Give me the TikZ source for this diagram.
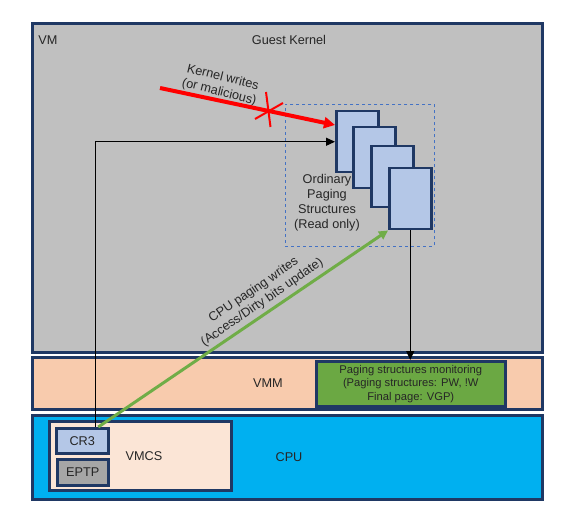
\documentclass[tikz,border=0pt]{standalone}
\usepackage{fontspec}
\setmainfont{Liberation Sans}
\usetikzlibrary{arrows.meta}
\definecolor{navy}{HTML}{1F3864}
\definecolor{vmgray}{HTML}{C0C0C0}
\definecolor{peach}{HTML}{F8CBAD}
\definecolor{cpublue}{HTML}{00B0F0}
\definecolor{vmcsfill}{HTML}{FBE5D6}
\definecolor{pagefill}{HTML}{B4C7E7}
\definecolor{eptpfill}{HTML}{A6A6A6}
\definecolor{monfill}{HTML}{6BA843}
\definecolor{arrowgreen}{HTML}{70AD47}
\definecolor{dashblue}{HTML}{4472C4}
\definecolor{txt}{HTML}{262626}
\tikzset{
  layer/.style={draw=navy, line width=3pt, inner sep=0pt, anchor=north west},
  inbox/.style={draw=navy, line width=2.5pt, inner sep=0pt, anchor=north west},
  pagebox/.style={draw=navy, line width=2.5pt, fill=pagefill, inner sep=0pt, anchor=north west, minimum width=42pt, minimum height=61pt},
  lbl/.style={text=txt, font=\fontsize{12.7}{15}\selectfont, align=center, inner sep=0pt},
  small/.style={text=txt, font=\fontsize{11.2}{13.5}\selectfont, align=center, inner sep=0pt},
  blk/.style={draw=black, line width=1.3pt, -{Triangle[length=9pt,width=8pt]}},
}
\begin{document}
\begin{tikzpicture}[x=1pt,y=-1pt]
\useasboundingbox (0,0) rectangle (573,513);
% layers
\node[layer, fill=vmgray, minimum width=510pt, minimum height=329pt] (vm) at (31,22) {};
\node[layer, fill=peach, minimum width=510pt, minimum height=52pt] (vmm) at (31,356) {};
\node[layer, fill=cpublue, minimum width=510pt, minimum height=84pt] (cpu) at (31,414) {};
\node[inbox, fill=vmcsfill, minimum width=182pt, minimum height=69pt] (vmcs) at (48,420) {};
\node[inbox, fill=pagefill, minimum width=52pt, minimum height=25pt] (cr3) at (55,427) {};
\node[inbox, fill=eptpfill, minimum width=51pt, minimum height=26pt] (eptp) at (56,458) {};
\node[inbox, fill=monfill, minimum width=189pt, minimum height=45pt] (mon) at (315,360) {};
% dashed region
\node[draw=dashblue, dashed, line width=0.9pt, inner sep=0pt, anchor=north west, minimum width=149pt, minimum height=142pt] (ro) at (285,104) {};
% paging structures
\node[pagebox] (p1) at (335,110) {};
\node[pagebox] (p2) at (352,126) {};
\node[pagebox] (p3) at (370,145) {};
\node[pagebox] (p4) at (388,167) {};
% texts
\node[lbl] (tvm) at (48,40) {VM};
\node[lbl] (tgk) at (289,40) {Guest Kernel};
\node[lbl, rotate=-14] (tkw) at (221,85) {Kernel writes\\(or malicious)};
\node[lbl] (tops) at (327,203) {Ordinary\\Paging\\Structures\\(Read only)};
\node[lbl, rotate=34.4] (tcpw) at (258,296.5) {CPU paging writes\\(Access/Dirty bits update)};
\node[lbl] (tvmm) at (268,383) {VMM};
\node[lbl] (tcpu) at (289,457) {CPU};
\node[lbl] (tvmcs) at (144,456) {VMCS};
\node[lbl] at (cr3.center) {CR3};
\node[lbl] at (eptp.center) {EPTP};
\node[small] at (mon.center) {Paging structures monitoring\\(Paging structures: PW, !W\\Final page: VGP)};
% connectors
\draw[blk] ([xshift=13pt]cr3.north) |- (p1.west);
\draw[blk] (p4.south) -- (p4.south |- mon.north);
\draw[draw=arrowgreen, line width=3pt, -{Triangle[length=9pt,width=9pt]}] ([xshift=16pt]cr3.north) -- (p4.south west);
\coordinate (rs) at (160,88);
\draw[draw=red, line width=4pt, -{Triangle[length=11pt,width=11pt]}] (rs) -- ([yshift=-15pt]p1.north west);
% red cross
\draw[red, line width=2pt] (266,92) -- (270.5,127);
\draw[red, line width=2pt] (255,119) -- (283,103);
\end{tikzpicture}
\end{document}
